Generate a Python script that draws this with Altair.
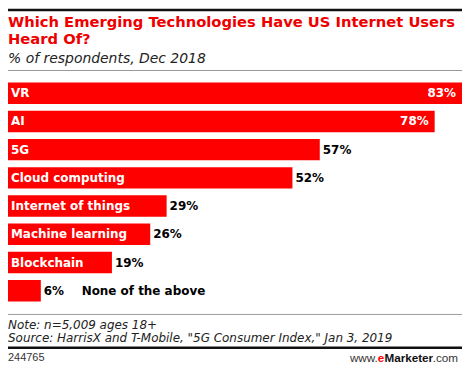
import altair as alt
import pandas as pd

# ---- data ----
categories = ["VR", "AI", "5G", "Cloud computing", "Internet of things",
              "Machine learning", "Blockchain", "None of the above"]
values = [83, 78, 57, 52, 29, 26, 19, 6]
value_inside = [True, True, False, False, False, False, False, False]
category_inside = [True, True, True, True, True, True, True, False]

title_lines = ["Which Emerging Technologies Have US Internet Users", "Heard Of?"]
subtitle = "% of respondents, Dec 2018"
note = "Note: n=5,009 ages 18+"
source = 'Source: HarrisX and T-Mobile, "5G Consumer Index," Jan 3, 2019'
chart_id = "244765"
brand_parts = ["www.", "e", "Marketer", ".com"]

df = pd.DataFrame({
    "category": categories,
    "value": values,
    "label": [f"{v}%" for v in values],
    "val_in": value_inside,
    "cat_in": category_inside,
    "start": [0] * len(values),
})

W, H = 456, 358
RED = "#ff0000"
TITLE_RED = "#ee0000"
BOLD = "DejaVu Sans"

y_enc = alt.Y("category:N", sort=categories, axis=None,
              scale=alt.Scale(range=[70.6, 297.4], paddingInner=0.24, paddingOuter=0.12))
x_scale = alt.Scale(domain=[0, 83], nice=False, zero=True)

base = alt.Chart(df)

bars = base.mark_bar(color=RED).encode(
    x=alt.X("value:Q", scale=x_scale, axis=None),
    x2=alt.X2("start:Q"),
    y=y_enc,
)

cat_in = base.transform_filter("datum.cat_in").mark_text(
    align="left", baseline="middle", dx=3, color="white",
    font=BOLD, fontWeight="bold", fontSize=12,
).encode(x=alt.X("start:Q", scale=x_scale, axis=None), y=y_enc, text="category:N")

cat_out = base.transform_filter("!datum.cat_in").mark_text(
    align="left", baseline="middle", dx=41, color="black",
    font=BOLD, fontWeight="bold", fontSize=12,
).encode(x=alt.X("value:Q", scale=x_scale, axis=None), y=y_enc, text="category:N")

val_in = base.transform_filter("datum.val_in").mark_text(
    align="right", baseline="middle", dx=-6, color="white",
    font=BOLD, fontWeight="bold", fontSize=12,
).encode(x=alt.X("value:Q", scale=x_scale, axis=None), y=y_enc, text="label:N")

val_out = base.transform_filter("!datum.val_in").mark_text(
    align="left", baseline="middle", dx=3, color="black",
    font=BOLD, fontWeight="bold", fontSize=12,
).encode(x=alt.X("value:Q", scale=x_scale, axis=None), y=y_enc, text="label:N")


def text_layer(text, x, y, align="left", **style):
    return alt.Chart(pd.DataFrame({"t": [text]})).mark_text(
        align=align, baseline="alphabetic", **style
    ).encode(x=alt.value(x), y=alt.value(y), text="t:N")


def rule_layer(y, color, width):
    return alt.Chart(pd.DataFrame({"a": [0]})).mark_rule(
        color=color, strokeWidth=width
    ).encode(x=alt.value(0), x2=alt.value(W), y=alt.value(y))


decor = [
    rule_layer(1.25, "#111111", 2.5),
    text_layer(title_lines[0], 0, 18, font=BOLD, fontWeight="bold", fontSize=14.8, color=TITLE_RED),
    text_layer(title_lines[1], 0, 35, font=BOLD, fontWeight="bold", fontSize=14.8, color=TITLE_RED),
    text_layer(subtitle, 0, 54, font="DejaVu Sans", fontStyle="italic", fontSize=14, color="#222222"),
    rule_layer(62, "#999999", 1),
    rule_layer(307, "#999999", 1),
    text_layer(note, 0, 322, font="DejaVu Sans", fontStyle="italic", fontSize=12, color="#222222"),
    text_layer(source, 0, 335, font="DejaVu Sans", fontStyle="italic", fontSize=12, color="#222222"),
    rule_layer(340.5, "#111111", 2.5),
    text_layer(chart_id, 0, 354, font="Liberation Sans", fontSize=11, color="#333333"),
    text_layer(brand_parts[3], 452, 355, align="right", font="Liberation Sans", fontSize=11.75, color="#333333"),
    text_layer(brand_parts[2], 427, 355, align="right", font="Liberation Sans", fontWeight="bold", fontSize=11.75, color="#111111"),
    text_layer(brand_parts[1], 378, 355, align="right", font="Liberation Sans", fontWeight="bold", fontSize=11.75, color=RED),
    text_layer(brand_parts[0], 371.5, 355, align="right", font="Liberation Sans", fontSize=11.75, color="#333333"),
]

chart = alt.layer(bars, cat_in, cat_out, val_in, val_out, *decor).properties(
    width=W, height=H, padding=0,
    autosize=alt.AutoSizeParams(type="none"),
).configure_view(stroke=None)

chart.save("out.html", embed_options={"renderer": "svg", "actions": False})
